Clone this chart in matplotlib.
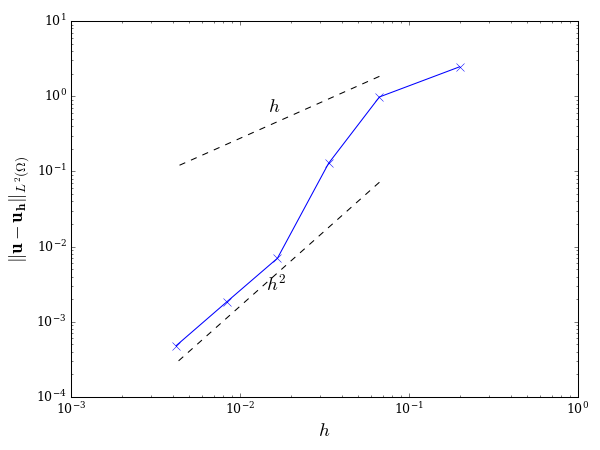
import matplotlib
matplotlib.use("Agg")
import matplotlib.pyplot as plt
import numpy as np

plt.style.use("classic")
plt.rcParams.update({
    "mathtext.fontset": "cm",
    "font.family": "serif",
    "font.serif": ["DejaVu Serif"],
})

# mesh sizes and L2 errors
h = [0.2, 0.067, 0.0335, 0.0167, 0.0084, 0.0042]
err = [2.47, 0.98, 0.128, 0.0070, 0.00185, 0.00048]

# reference slopes
c1 = 27.5
c2 = 16.0

fig = plt.figure(figsize=(8, 6), dpi=75)
ax = fig.add_axes([0.118, 0.118, 0.845, 0.835])

ax.loglog(h, err, "b-x", lw=1.0, ms=7, mec="b")
hr = np.array(h[1:])
ax.loglog(hr, c1 * hr, "k--", lw=1.0)
ax.loglog(hr, c2 * hr**2, "k--", lw=1.0)

ax.text(0.0159, 0.72, "$h$", ha="center", va="center", fontsize=18)
ax.text(0.0165, 0.0031, "$h^2$", ha="center", va="center", fontsize=18)

ax.set_xlim(1e-3, 1e0)
ax.set_ylim(1e-4, 1e1)
ax.set_xlabel("$h$", fontsize=18)
ax.set_ylabel(r"$\|\mathbf{u}-\mathbf{u_h}\|_{L^2(\Omega)}$", fontsize=18)
ax.tick_params(labelsize=12)

fig.savefig("out.png", dpi=75)
